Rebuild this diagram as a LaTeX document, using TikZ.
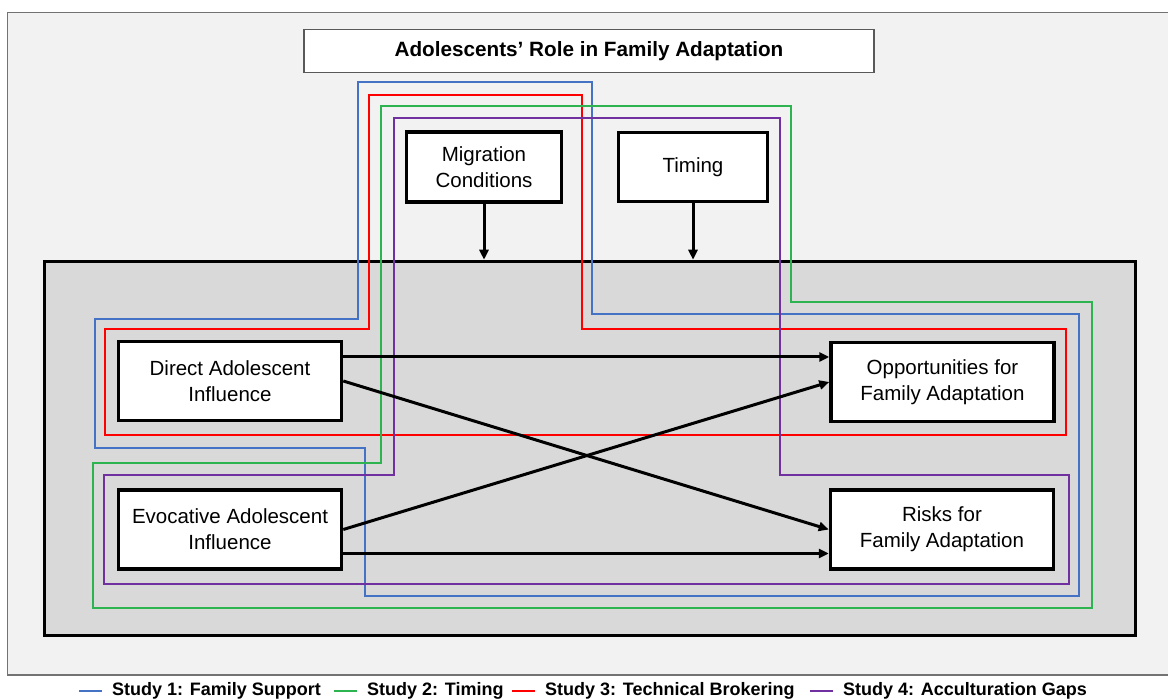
\documentclass[tikz,border=0pt]{standalone}
\usepackage{fontspec}
\setmainfont{Liberation Sans}
\usetikzlibrary{positioning,arrows.meta}
\definecolor{framegray}{HTML}{F2F2F2}
\definecolor{panelgray}{HTML}{D9D9D9}
\definecolor{s1}{HTML}{4472C4}
\definecolor{s2}{HTML}{2DB350}
\definecolor{s3}{HTML}{FF0000}
\definecolor{s4}{HTML}{7030A0}
\tikzset{
box/.style={draw, fill=white, line width=3.5pt, align=center, inner sep=0pt, font=\fontsize{20.5}{26}\selectfont},
bigbox/.style={box, minimum width=223pt, minimum height=79pt},
link/.style={line width=3pt, -{Triangle[length=10pt,width=9pt]}},
study/.style={line width=2pt, line join=miter},
keytext/.style={anchor=west, inner sep=0pt, font=\bfseries\fontsize{18}{20}\selectfont}
}

\begin{document}
\begin{tikzpicture}[x=1pt,y=-1pt]
\useasboundingbox (0,0) rectangle (1168,700);
\draw[fill=framegray, draw=black!55, line width=1.2pt] (7.5,12.5) rectangle (1180,675);
\node[draw=black!65, fill=white, line width=1.3pt, minimum width=570pt, minimum height=43pt, font=\bfseries\fontsize{20.7}{24}\selectfont] (title) at (589,51) {Adolescents’ Role in Family Adaptation};
\node[draw, fill=panelgray, line width=3.5pt, minimum width=1091pt, minimum height=374pt, inner sep=0pt] (panel) at (590,448.5) {};

\draw[study, s1] (358,82) -- (592,82) -- (592,314) -- (1079,314) -- (1079,596) -- (365,596) -- (365,448) -- (94.5,448) -- (94.5,319) -- (358,319) -- cycle;
\draw[study, s3] (369,95) -- (582,95) -- (582,329) -- (1066,329) -- (1066,435) -- (104.5,435) -- (104.5,329) -- (369,329) -- cycle;
\draw[study, s2] (381,106) -- (791,106) -- (791,302) -- (1092,302) -- (1092,608) -- (93,608) -- (93,463) -- (381,463) -- cycle;
\draw[study, s4] (394,118) -- (780,118) -- (780,475.5) -- (1069,475.5) -- (1069,584) -- (104,584) -- (104,475.5) -- (394,475.5) -- cycle;

\node[box, minimum width=155pt, minimum height=70pt] (mig) at (484,167) {Migration\\Conditions};
\node[box, minimum width=149pt, minimum height=69pt] (tim) at (693,167) {Timing};
\node[bigbox] (dir) at (230,381) {Direct Adolescent\\Influence};
\node[bigbox] (evo) at (230,529.5) {Evocative Adolescent\\Influence};
\node[bigbox] (opp) at (942.5,382) {Opportunities for\\Family Adaptation};
\node[bigbox] (risk) at (942,529.5) {Risks for\\Family Adaptation};

\draw[link] (mig.south) -- (mig.south |- panel.north);
\draw[link] (tim.south) -- (tim.south |- panel.north);
\coordinate (dirtop) at ([yshift=24pt]dir.east);
\coordinate (evobot) at ([yshift=-24pt]evo.east);
\draw[link] (dirtop) -- (dirtop -| opp.west);
\draw[link] (dir.east) -- (risk.west);
\draw[link] (evo.east) -- (opp.west);
\draw[link] (evobot) -- (evobot -| risk.west);

\node[keytext] (k1) at (112,691) {Study 1: Family Support};
\node[keytext] (k2) at (367,691) {Study 2: Timing};
\node[keytext] (k3) at (545,691) {Study 3: Technical Brokering};
\node[keytext] (k4) at (843,691) {Study 4: Acculturation Gaps};
\foreach \k/\c in {k1/s1,k2/s2,k3/s3,k4/s4}
  \draw[\c, line width=2pt] ([xshift=-33pt]\k.west) -- ([xshift=-10pt]\k.west);
\end{tikzpicture}
\end{document}
